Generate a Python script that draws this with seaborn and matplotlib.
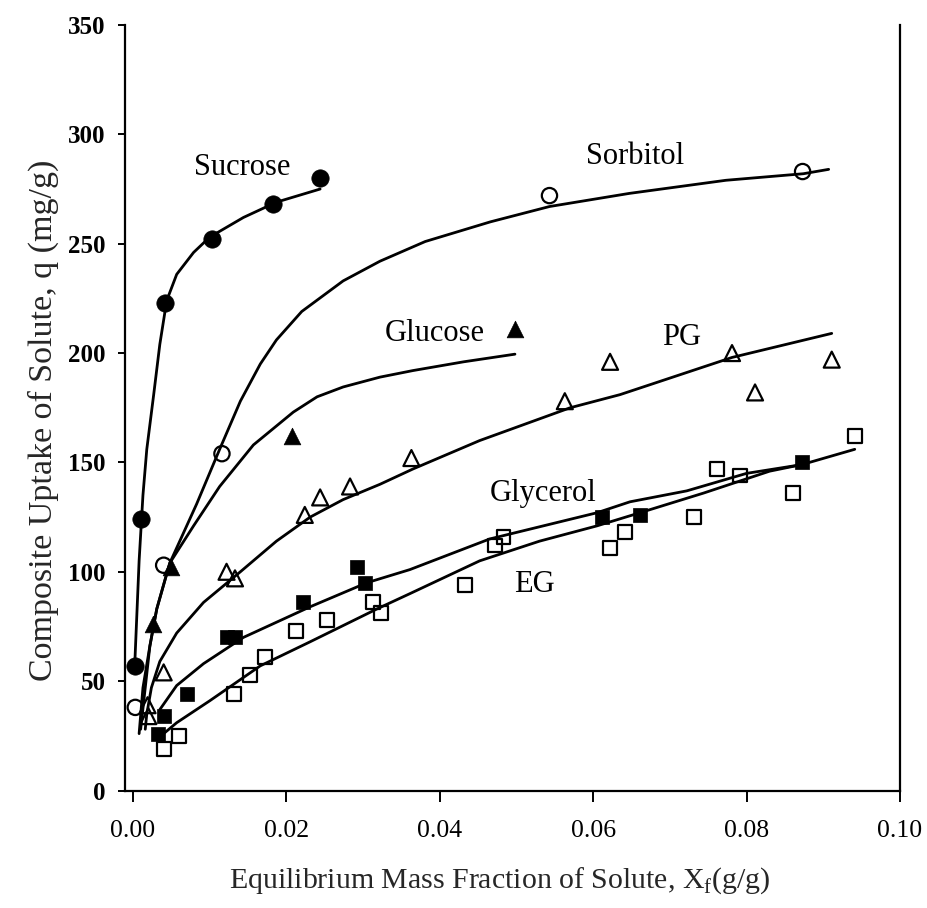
import matplotlib
matplotlib.use("Agg")
import matplotlib.pyplot as plt
import seaborn as sns
import pandas as pd

# ---- data ----
sucrose_x = [0.0003, 0.0010, 0.0042, 0.0103, 0.0183, 0.0244]
sucrose_y = [57, 124, 223, 252, 268, 280]
sucrose_fit_x = [0.0002, 0.0008, 0.0013, 0.0018, 0.0027, 0.0035, 0.0044, 0.0057, 0.0079, 0.0100, 0.0144, 0.0187, 0.0244]
sucrose_fit_y = [55, 105, 135, 156, 181, 204, 224, 236, 246, 253, 262, 269, 275]

sorbitol_x = [0.0003, 0.0040, 0.0116, 0.0543, 0.0873]
sorbitol_y = [38, 103, 154, 272, 283]
sorbitol_fit_x = [0.0010, 0.0022, 0.0031, 0.0048, 0.0083, 0.0113, 0.0140, 0.0166, 0.0187, 0.0220, 0.0274, 0.0322, 0.0381, 0.0466, 0.0543, 0.0647, 0.0773, 0.0874, 0.0907]
sorbitol_fit_y = [28, 66, 83, 104, 131, 156, 178, 195, 206, 219, 233, 242, 251, 260, 267, 273, 279, 282, 284]

glucose_x = [0.0026, 0.0050, 0.0207, 0.0498]
glucose_y = [76, 102, 162, 211]
glucose_fit_x = [0.0008, 0.0013, 0.0022, 0.0031, 0.0048, 0.0079, 0.0113, 0.0157, 0.0209, 0.0240, 0.0274, 0.0322, 0.0365, 0.0431, 0.0498]
glucose_fit_y = [26, 47, 66, 83, 104, 121, 139, 158, 173, 180, 184.5, 189, 192, 196, 199.5]

pg_x = [0.0019, 0.0020, 0.0040, 0.0122, 0.0133, 0.0224, 0.0244, 0.0283, 0.0363, 0.0563, 0.0622, 0.0781, 0.0811, 0.0911]
pg_y = [39, 34, 54, 100, 97, 126, 134, 139, 152, 178, 196, 200, 182, 197]
pg_fit_x = [0.0016, 0.0018, 0.0024, 0.0035, 0.0057, 0.0092, 0.0140, 0.0187, 0.0231, 0.0274, 0.0322, 0.0365, 0.0452, 0.0570, 0.0635, 0.0678, 0.0781, 0.0911]
pg_fit_y = [28, 35, 47, 59, 72, 86, 100, 114, 125, 133, 140, 147, 160, 175, 181, 186, 198, 209]

glycerol_x = [0.0033, 0.0040, 0.0071, 0.0122, 0.0133, 0.0222, 0.0292, 0.0302, 0.0611, 0.0661, 0.0872]
glycerol_y = [26, 34, 44, 70, 70, 86, 102, 95, 125, 126, 150]
glycerol_fit_x = [0.0035, 0.0057, 0.0092, 0.0144, 0.0231, 0.0305, 0.0361, 0.0465, 0.0605, 0.0648, 0.0722, 0.0800, 0.0872]
glycerol_fit_y = [37, 48, 58, 70, 84, 95, 101, 115, 127, 132, 137, 145, 149]

eg_x = [0.0040, 0.0060, 0.0132, 0.0152, 0.0172, 0.0213, 0.0253, 0.0313, 0.0323, 0.0433, 0.0472, 0.0483, 0.0622, 0.0641, 0.0731, 0.0761, 0.0791, 0.0861, 0.0941]
eg_y = [19, 25, 44, 53, 61, 73, 78, 86, 81, 94, 112, 116, 111, 118, 125, 147, 144, 136, 162]
eg_fit_x = [0.0040, 0.0057, 0.0100, 0.0166, 0.0231, 0.0318, 0.0361, 0.0452, 0.0530, 0.0605, 0.0661, 0.0744, 0.0830, 0.0872, 0.0941]
eg_fit_y = [26, 31, 41, 57, 68, 83, 90, 105, 114, 121, 127, 136, 146, 149, 156]

labels = ["Sucrose", "Sorbitol", "Glucose", "PG", "Glycerol", "EG"]
label_x = [0.0142, 0.0654, 0.0394, 0.0715, 0.0535, 0.0523]
label_y = [285, 290, 209, 207, 136, 94]

x_ticks = [0.00, 0.02, 0.04, 0.06, 0.08, 0.10]
y_ticks = [0, 50, 100, 150, 200, 250, 300, 350]

# ---- style ----
sns.set_theme(style="ticks")
plt.rcParams["font.family"] = ["Liberation Serif", "DejaVu Serif"]
plt.rcParams["mathtext.fontset"] = "custom"
plt.rcParams["mathtext.rm"] = "Liberation Serif"

W, H = 927, 908
fig = plt.figure(figsize=(W / 100, H / 100), dpi=100)
fig.patch.set_facecolor("white")
ax = fig.add_axes([125 / W, (H - 790.5) / H, (900 - 125) / W, (790.5 - 25) / H])
ax.set_facecolor("white")

LW = 2.0
fits = [
    (sucrose_fit_x, sucrose_fit_y),
    (sorbitol_fit_x, sorbitol_fit_y),
    (glucose_fit_x, glucose_fit_y),
    (pg_fit_x, pg_fit_y),
    (glycerol_fit_x, glycerol_fit_y),
    (eg_fit_x, eg_fit_y),
]
for fx, fy in fits:
    df = pd.DataFrame({"x": fx, "y": fy})
    sns.lineplot(data=df, x="x", y="y", sort=False, estimator=None,
                 color="black", linewidth=LW, ax=ax)

# filled markers
filled = [
    (sucrose_x, sucrose_y, "o", 12.5),
    (glucose_x, glucose_y, "^", 12.0),
    (glycerol_x, glycerol_y, "s", 10.5),
]
for px, py, m, ms in filled:
    df = pd.DataFrame({"x": px, "y": py})
    sns.scatterplot(data=df, x="x", y="y", marker=m, s=ms ** 2,
                    color="black", edgecolor="black", linewidth=0.5,
                    ax=ax, zorder=3)

# open markers
opened = [
    (sorbitol_x, sorbitol_y, "o", 11.0),
    (pg_x, pg_y, "^", 11.5),
    (eg_x, eg_y, "s", 10.0),
]
for px, py, m, ms in opened:
    df = pd.DataFrame({"x": px, "y": py})
    sns.scatterplot(data=df, x="x", y="y", marker=m, s=ms ** 2,
                    facecolor="none", edgecolor="black", linewidth=1.6,
                    ax=ax, zorder=3)

for t, lx, ly in zip(labels, label_x, label_y):
    ax.text(lx, ly, t, ha="center", va="center", fontsize=22, color="black")

ax.set_xlim(-0.00104, 0.10)
ax.set_ylim(0, 350)
ax.set_xticks(x_ticks)
ax.set_xticklabels([f"{v:.2f}" for v in x_ticks], fontsize=18.5)
ax.set_yticks(y_ticks)
ax.set_yticklabels([str(v) for v in y_ticks], fontsize=18, fontweight="bold")

ax.set_xlabel(r"Equilibrium Mass Fraction of Solute, X$_\mathregular{f}$(g/g)",
              fontsize=21.5)
ax.set_ylabel("Composite Uptake of Solute, q (mg/g)", fontsize=24.5)
ax.xaxis.set_label_coords(0.484, -0.098)
ax.yaxis.set_label_coords(-0.085, 0.484)

for s in ["left", "bottom", "right"]:
    ax.spines[s].set_visible(True)
    ax.spines[s].set_linewidth(1.6)
    ax.spines[s].set_color("black")
ax.spines["top"].set_visible(False)

ax.tick_params(axis="x", direction="out", length=8, width=1.4, pad=13,
               colors="black", top=False)
ax.tick_params(axis="y", direction="out", length=5, width=1.4, pad=9,
               colors="black", right=False)
ax.grid(False)

fig.savefig("out.png", dpi=100, facecolor="white")
